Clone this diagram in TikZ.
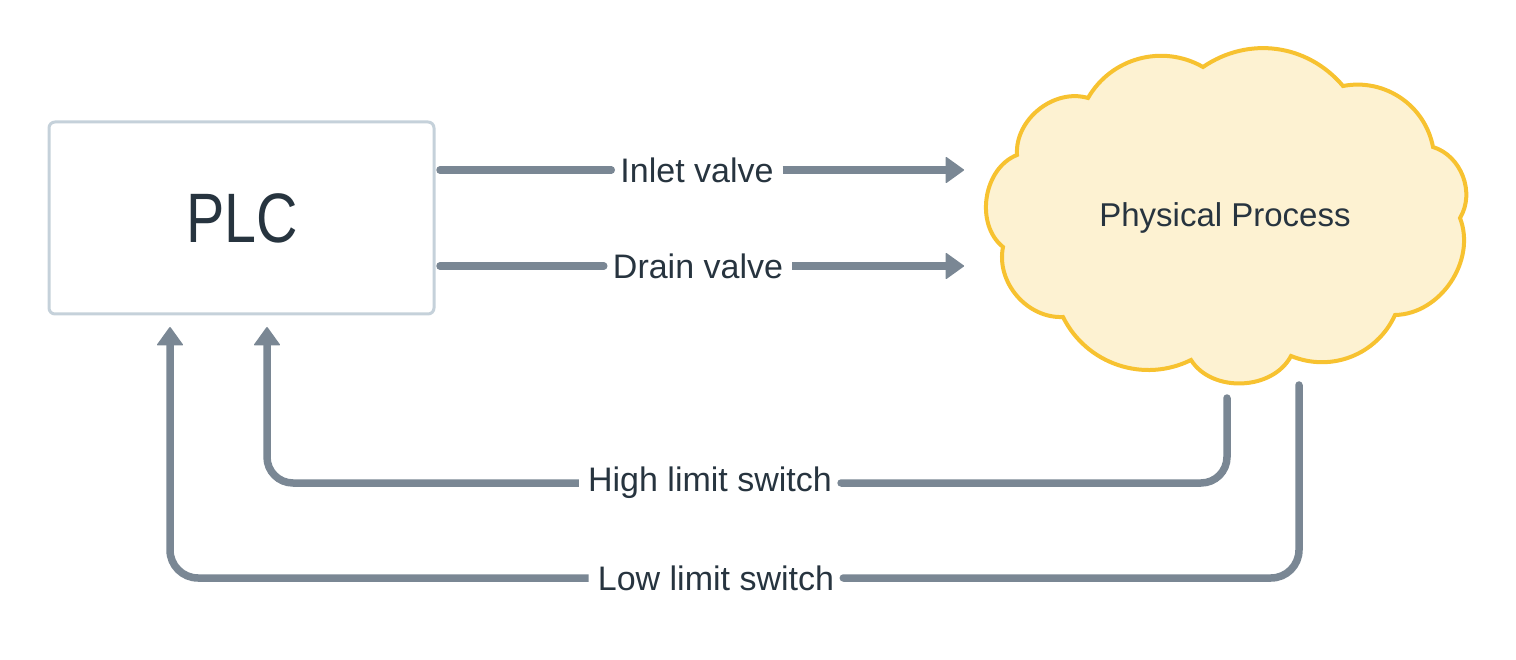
\documentclass[tikz,border=0pt]{standalone}
\usepackage{fontspec}
\setmainfont{Liberation Sans}
\usetikzlibrary{arrows.meta}
\definecolor{wire}{HTML}{7A8794}
\definecolor{txt}{HTML}{27343F}
\definecolor{plcedge}{HTML}{C5D1DA}
\definecolor{cloudfill}{HTML}{FDF2D2}
\definecolor{cloudedge}{HTML}{F7C230}
\tikzset{
  plcbox/.style={draw=plcedge, line width=3pt, rounded corners=6pt, fill=white},
  wirel/.style={draw=wire, line width=7.5pt},
  tipped/.style={wirel, -{Triangle[length=19pt,width=27pt,line width=1.5pt,round]}},
  lbl/.style={text=txt, font=\fontsize{34}{34}\selectfont, inner xsep=9pt, inner ysep=2pt, anchor=center},
}
\begin{document}
\begin{tikzpicture}[x=1pt,y=-1pt]
\useasboundingbox (0,0) rectangle (1516,660);
% PLC
\node[plcbox, minimum width=385pt, minimum height=192pt] (plc) at (241.5,218) {};
\node[text=txt, font=\fontsize{70}{70}\selectfont] (plct) at (242,218) {\scalebox{0.82}[1]{PLC}};
% cloud
\coordinate (c1) at (1017,155);
\coordinate (c2) at (1088,98);
\coordinate (c3) at (1203,67);
\coordinate (c4) at (1343,86);
\coordinate (c5) at (1433,147);
\coordinate (c6) at (1460,218);
\coordinate (c7) at (1395,315);
\coordinate (c8) at (1291,356);
\coordinate (c9) at (1191,360);
\coordinate (c10) at (1063,317);
\coordinate (c11) at (1003,247);
\draw[draw=cloudedge, fill=cloudfill, line width=4pt]
  (c1) to[bend left=55] (c2) to[bend left=45] (c3) to[bend left=42] (c4)
  to[bend left=45] (c5) to[bend left=52] (c6) to[bend left=55] (c7)
  to[bend left=44] (c8) to[bend left=60] (c9) to[bend left=45] (c10)
  to[bend left=52] (c11) to[bend left=60] (c1) -- cycle;
\node[text=txt, font=\fontsize{33}{33}\selectfont] (proc) at (1225,218) {Physical Process};
% top connectors
\coordinate (in0) at (440,170);
\coordinate (in1) at (964,170);
\coordinate (dr0) at (440,266);
\coordinate (dr1) at (964,266);
\node[lbl] (inl) at (697,170) {Inlet valve};
\node[lbl] (drl) at (698,266) {Drain valve};
\draw[wirel, line cap=round] (in0) -- (inl.west);
\draw[tipped] (inl.east) -- (in1);
\draw[wirel, line cap=round] (dr0) -- (drl.west);
\draw[tipped] (drl.east) -- (dr1);
% bottom connectors
\coordinate (hi0) at (1227,398);
\coordinate (hic) at (1227,483);
\coordinate (hid) at (267,483);
\coordinate (hi1) at (267,327);
\node[lbl] (hil) at (710,483) {High limit switch};
\draw[wirel, line cap=round, rounded corners=26pt] (hi0) -- (hic) -- (hil.east);
\draw[tipped, rounded corners=26pt] (hil.west) -- (hid) -- (hi1);
\coordinate (lo0) at (1299,385);
\coordinate (loc) at (1299,578);
\coordinate (lod) at (170,578);
\coordinate (lo1) at (170,327);
\node[lbl] (lol) at (716,578) {Low limit switch};
\draw[wirel, line cap=round, rounded corners=28pt] (lo0) -- (loc) -- (lol.east);
\draw[tipped, rounded corners=28pt] (lol.west) -- (lod) -- (lo1);
\end{tikzpicture}
\end{document}
